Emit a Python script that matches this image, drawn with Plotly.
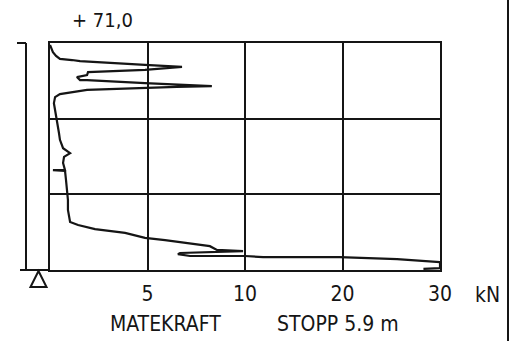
import numpy as np
import plotly.graph_objects as go

# ---- data ----
force_kN = [0.0, 0.15, 0.31, 0.51, 1.13, 1.54, 4.87, 6.77, 4.87, 1.95, 1.9, 1.38, 1.54, 1.9,
            4.87, 8.3, 6.5, 4.87, 1.9, 0.51, 0.26, 0.2, 0.26, 0.36, 0.41, 0.46, 0.51, 0.67,
            1.03, 0.72, 0.67, 0.77, 0.15, 0.77, 0.82, 0.87, 0.92, 0.92, 1.03, 1.44, 2.31,
            3.85, 4.87, 5.9, 7.08, 8.2, 8.56, 9.9, 6.67, 6.56, 7.18, 10.0, 11.85, 19.7,
            25.6, 29.0, 30.0, 30.0, 28.3]
depth_m = [0.05, 0.24, 0.34, 0.42, 0.45, 0.48, 0.58, 0.63, 0.71, 0.77, 0.85, 0.90, 0.98, 0.98,
           1.06, 1.14, 1.16, 1.19, 1.24, 1.35, 1.43, 1.59, 1.77, 1.98, 2.17, 2.38, 2.56, 2.78,
           2.91, 3.01, 3.17, 3.36, 3.36, 3.38, 3.62, 3.89, 4.15, 4.41, 4.73, 4.81, 4.92,
           5.02, 5.15, 5.21, 5.29, 5.37, 5.47, 5.50, 5.55, 5.58, 5.63, 5.63, 5.66, 5.66,
           5.71, 5.76, 5.79, 5.95, 5.97]

tick_kN = [5, 10, 20, 30]
tick_labels = ["5", "10", "20", "30"]
scale_kN = [0, 5, 10, 20, 30]          # piecewise kN scale of the plotter
scale_pos = [0, 1, 2, 3, 4]
depth_range = [6, 0]
depth_grid = [2, 4]

top_label = "+ 71,0"
unit_label = "kN"
x_title = "MATEKRAFT"
stop_label = "STOPP 5.9 m"

FONT = "DejaVu Sans Condensed, Liberation Sans Narrow, Arial Narrow, sans-serif"
INK = "#151515"

W, H = 514, 341
L, R, T, B = 50, 440, 43, 270


def px(x):
    return (x - L) / (R - L)


def py(y):
    return (B - y) / (B - T)


xpos = np.interp(force_kN, scale_kN, scale_pos)
tickpos = np.interp(tick_kN, scale_kN, scale_pos)

fig = go.Figure()
fig.add_trace(go.Scatter(x=xpos, y=depth_m, mode="lines",
                         line=dict(color=INK, width=2.2), cliponaxis=False,
                         showlegend=False, hoverinfo="skip"))

fig.update_layout(
    width=W, height=H,
    margin=dict(l=L, r=W - R, t=T, b=H - B),
    paper_bgcolor="white", plot_bgcolor="white",
    font=dict(family=FONT, color=INK, size=21),
    xaxis=dict(range=[0, 4], tickvals=list(tickpos), ticktext=tick_labels,
               showgrid=True, gridcolor=INK, gridwidth=2, zeroline=False,
               showline=True, linecolor=INK, linewidth=2, mirror=True,
               ticks="", ticklabelstandoff=4, tickfont=dict(size=21, family=FONT)),
    yaxis=dict(range=depth_range, tickvals=depth_grid, showticklabels=False,
               showgrid=True, gridcolor=INK, gridwidth=2, zeroline=False,
               showline=True, linecolor=INK, linewidth=2, mirror=True, ticks=""),
)

shapes = [
    # left depth bar
    dict(type="line", xref="paper", yref="paper", x0=px(26), x1=px(26), y0=py(43), y1=py(270)),
    dict(type="line", xref="paper", yref="paper", x0=px(17), x1=px(26), y0=py(43), y1=py(43)),
    # bottom line extension
    dict(type="line", xref="paper", yref="paper", x0=px(20), x1=px(50), y0=py(270), y1=py(270)),
    # triangle marker
    dict(type="path", xref="paper", yref="paper",
         path=f"M {px(38.5)} {py(271)} L {px(46.5)} {py(287)} L {px(30.5)} {py(287)} Z"),
    # right frame line
    dict(type="line", xref="paper", yref="paper", x0=px(508), x1=px(508), y0=py(0), y1=py(341)),
]
for s in shapes:
    s["line"] = dict(color=INK, width=2)
fig.update_layout(shapes=shapes)

ann = [
    (top_label, 102, 20, 20),
    (unit_label, 487, 295, 21),
    (x_title, 165, 324, 21),
    (stop_label, 338, 324, 21),
]
fig.update_layout(annotations=[
    dict(text=t, xref="paper", yref="paper", x=px(x), y=py(y), showarrow=False,
         xanchor="center", yanchor="middle", font=dict(size=s, family=FONT, color=INK))
    for t, x, y, s in ann
])

fig.write_html("out.html", config={"displayModeBar": False},
               post_script="document.body.style.margin='0';document.body.style.overflow='hidden';")
